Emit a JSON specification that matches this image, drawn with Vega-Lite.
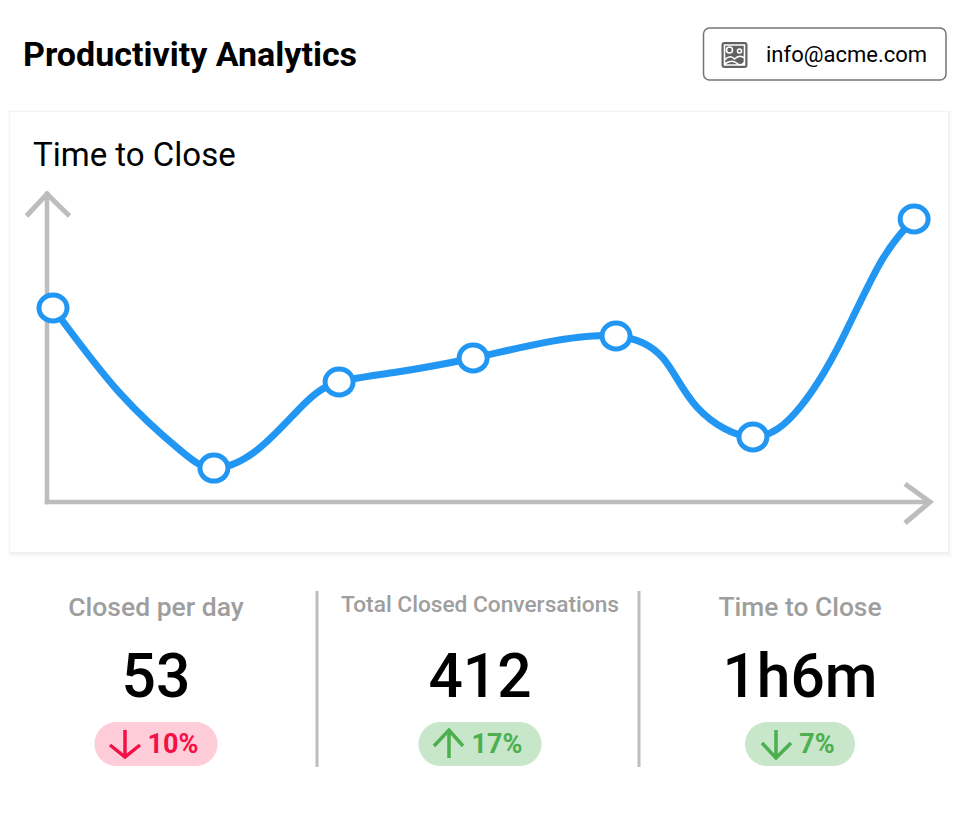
{
"$schema":"https://vega.github.io/schema/vega-lite/v6.json",
"width":960,"height":816,"padding":0,
"autosize":{"type":"fit","contains":"padding"},
"background":"white",
"config":{"view":{"stroke":null},"text":{"font":"Roboto"}},
"datasets":{
"series":[
{"day":0.21,"minutes":62.4,"node":true},
{"day":2.55,"minutes":35.0,"node":false},
{"day":4.65,"minutes":16.7,"node":false},
{"day":5.84,"minutes":10.9,"node":true},
{"day":7.35,"minutes":16.7,"node":false},
{"day":8.96,"minutes":31.2,"node":false},
{"day":10.22,"minutes":38.6,"node":true},
{"day":12.25,"minutes":41.8,"node":false},
{"day":14.91,"minutes":46.3,"node":true},
{"day":17.49,"minutes":51.4,"node":false},
{"day":19.91,"minutes":53.4,"node":true},
{"day":21.55,"minutes":46.3,"node":false},
{"day":22.74,"minutes":30.5,"node":false},
{"day":24.70,"minutes":20.9,"node":true},
{"day":26.35,"minutes":30.5,"node":false},
{"day":27.75,"minutes":51.1,"node":false},
{"day":29.15,"minutes":76.8,"node":false},
{"day":30.34,"minutes":91.0,"node":true}],
"kpis":[
{"metric":"Closed per day","col":1,"value":"53","change":"10%","direction":"down","tone":"bad"},
{"metric":"Total Closed Conversations","col":2,"value":"412","change":"17%","direction":"up","tone":"good"},
{"metric":"Time to Close","col":3,"value":"1h6m","change":"7%","direction":"down","tone":"good"}]
},
"resolve":{"scale":{"x":"independent","y":"independent"}},
"layer":[
{
"data":{"values":[{"element":"page"}]},
"encoding":{
"x":{"datum":0,"type":"quantitative","scale":{"domain":[0,960],"range":[0,960],"nice":false,"zero":false},"axis":null},
"y":{"datum":0,"type":"quantitative","scale":{"domain":[0,816],"range":[0,816],"nice":false,"zero":false},"axis":null}
},
"layer":[
{"mark":{"type":"rect","fill":"#000","opacity":0.012},"encoding":{"x":{"datum":8},"x2":{"datum":952},"y":{"datum":110},"y2":{"datum":558}}},
{"mark":{"type":"rect","fill":"#000","opacity":0.018},"encoding":{"x":{"datum":9},"x2":{"datum":950.5},"y":{"datum":111},"y2":{"datum":556}}},
{"mark":{"type":"rect","fill":"#000","opacity":0.03},"encoding":{"x":{"datum":9.5},"x2":{"datum":949.5},"y":{"datum":111.5},"y2":{"datum":554}}},
{"mark":{"type":"rect","fill":"white"},"encoding":{"x":{"datum":10},"x2":{"datum":948},"y":{"datum":112},"y2":{"datum":552}}},
{"mark":{"type":"rect","fill":"white","stroke":"#757575","strokeWidth":1.5,"cornerRadius":6},"encoding":{"x":{"datum":703.5},"x2":{"datum":946},"y":{"datum":28},"y2":{"datum":80}}},
{"mark":{"type":"text","text":"Productivity Analytics","align":"left","baseline":"alphabetic","fontSize":34,"fontWeight":"bold","color":"#000"},"encoding":{"x":{"datum":23},"y":{"datum":66}}},
{"mark":{"type":"text","text":"info@acme.com","align":"left","baseline":"alphabetic","fontSize":22,"color":"#000"},"encoding":{"x":{"datum":766},"y":{"datum":62}}},
{"mark":{"type":"text","text":"Time to Close","align":"left","baseline":"alphabetic","fontSize":33,"color":"#000"},"encoding":{"x":{"datum":33},"y":{"datum":166}}},
{"mark":{"type":"point","filled":true,"fill":"#616161","opacity":1,"size":4,"shape":"M-13,-10 Q-13,-13 -10,-13 L10,-13 Q13,-13 13,-10 L13,10 Q13,13 10,13 L-10,13 Q-13,13 -13,10 Z"},"encoding":{"x":{"datum":734.5},"y":{"datum":55}}},
{"mark":{"type":"point","filled":false,"stroke":"#fff","strokeWidth":1.6,"opacity":1,"size":4,"shape":"M-10,-10 L10,-10 L10,10 L-10,10 Z M-8,-5 A3,3 0 1,1 -2,-5 A3,3 0 1,1 -8,-5 M3,-4 A2,2 0 1,1 7,-4 A2,2 0 1,1 3,-4 M-10,5 Q-4,-1 0,4 Q5,-1 10,3 M-10,9 Q-3,4 2,8 T10,7"},"encoding":{"x":{"datum":734.5},"y":{"datum":55}}}
]
},
{
"data":{"name":"series"},
"encoding":{
"x":{"field":"day","type":"quantitative","scale":{"domain":[0,31],"range":[47,933],"nice":false,"zero":false},"axis":null},
"y":{"field":"minutes","type":"quantitative","scale":{"domain":[0,100],"range":[502,191],"nice":false,"zero":false},"axis":null}
},
"layer":[
{"transform":[{"filter":"datum.day==0.21"}],"mark":{"type":"rule","color":"#bdbdbd","strokeWidth":4.5,"strokeCap":"square"},"encoding":{"x":{"datum":0},"y":{"datum":0},"y2":{"datum":99}}},
{"transform":[{"filter":"datum.day==0.21"}],"mark":{"type":"rule","color":"#bdbdbd","strokeWidth":4.5,"strokeCap":"square"},"encoding":{"x":{"datum":0},"x2":{"datum":30.85},"y":{"datum":0}}},
{"transform":[{"filter":"datum.day==0.21"}],"mark":{"type":"point","filled":false,"stroke":"#bdbdbd","strokeWidth":5,"opacity":1,"size":4,"shape":"M-20.5,25 L0,3 L22.5,25"},"encoding":{"x":{"datum":0},"y":{"datum":100}}},
{"transform":[{"filter":"datum.day==0.21"}],"mark":{"type":"point","filled":false,"stroke":"#bdbdbd","strokeWidth":5,"opacity":1,"size":4,"shape":"M-28,-18 L-3,0 L-28,21"},"encoding":{"x":{"datum":31},"y":{"datum":0}}},
{"mark":{"type":"line","color":"#2196f3","strokeWidth":7,"interpolate":"natural"}},
{"transform":[{"filter":"datum.node"}],"mark":{"type":"point","shape":"M-14,0 A14,13 0 1,1 14,0 A14,13 0 1,1 -14,0 Z","filled":true,"fill":"white","stroke":"#2196f3","strokeWidth":5,"opacity":1,"size":4}}
]
},
{
"data":{"name":"kpis"},
"encoding":{
"x":{"field":"col","type":"quantitative","scale":{"domain":[1,1.5,2,2.5,3],"range":[156,317,480,639,800],"nice":false,"zero":false},"axis":null},
"y":{"datum":744,"type":"quantitative","scale":{"domain":[0,816],"range":[0,816],"nice":false,"zero":false},"axis":null}
},
"layer":[
{"transform":[{"filter":"datum.col==1"}],"mark":{"type":"rule","color":"#bdbdbd","strokeWidth":3},"encoding":{"x":{"datum":1.5},"y":{"datum":591},"y2":{"datum":767}}},
{"transform":[{"filter":"datum.col==1"}],"mark":{"type":"rule","color":"#bdbdbd","strokeWidth":3},"encoding":{"x":{"datum":2.5},"y":{"datum":591},"y2":{"datum":767}}},
{"transform":[{"filter":"datum.col==1"}],"mark":{"type":"text","fontSize":26.5,"fontWeight":500,"color":"#9e9e9e","baseline":"alphabetic"},"encoding":{"text":{"field":"metric"},"y":{"datum":616}}},
{"transform":[{"filter":"datum.col==2"}],"mark":{"type":"text","fontSize":22.7,"fontWeight":500,"color":"#9e9e9e","baseline":"alphabetic"},"encoding":{"text":{"field":"metric"},"y":{"datum":612}}},
{"transform":[{"filter":"datum.col==3"}],"mark":{"type":"text","fontSize":26.4,"fontWeight":500,"color":"#9e9e9e","baseline":"alphabetic"},"encoding":{"text":{"field":"metric"},"y":{"datum":616}}},
{"mark":{"type":"text","fontSize":60.5,"fontWeight":500,"color":"#000","baseline":"alphabetic"},"encoding":{"text":{"field":"value"},"y":{"datum":697}}},
{"transform":[{"filter":"datum.col<3"}],"mark":{"type":"rect","width":123,"height":44,"cornerRadius":22},"encoding":{"color":{"field":"tone","type":"nominal","scale":{"domain":["bad","good"],"range":["#ffcdd9","#c8e6c9"]},"legend":null}}},
{"transform":[{"filter":"datum.col==3"}],"mark":{"type":"rect","width":110,"height":44,"cornerRadius":22},"encoding":{"color":{"field":"tone","type":"nominal","scale":{"domain":["bad","good"],"range":["#ffcdd9","#c8e6c9"]},"legend":null}}},
{"mark":{"type":"point","filled":false,"strokeWidth":3.5,"opacity":1,"size":4},"encoding":{
"shape":{"field":"metric","type":"nominal","scale":{"domain":["Closed per day","Total Closed Conversations","Time to Close"],"range":["M-31,-14 L-31,13 M-46,1 L-31,13 L-16,1","M-31,14 L-31,-14 M-46,2 L-31,-14 L-17,2","M-24,-14 L-24,14 M-38,-1 L-24,14 L-9,-1"]},"legend":null},
"stroke":{"field":"tone","type":"nominal","scale":{"domain":["bad","good"],"range":["#f50f45","#4caf50"]},"legend":null}}},
{"mark":{"type":"text","fontSize":27,"fontWeight":"bold","dx":17,"baseline":"alphabetic"},"encoding":{"text":{"field":"change"},"y":{"datum":753},
"fill":{"field":"tone","type":"nominal","scale":{"domain":["bad","good"],"range":["#f50f45","#4caf50"]},"legend":null}}}
]
}
]
}
